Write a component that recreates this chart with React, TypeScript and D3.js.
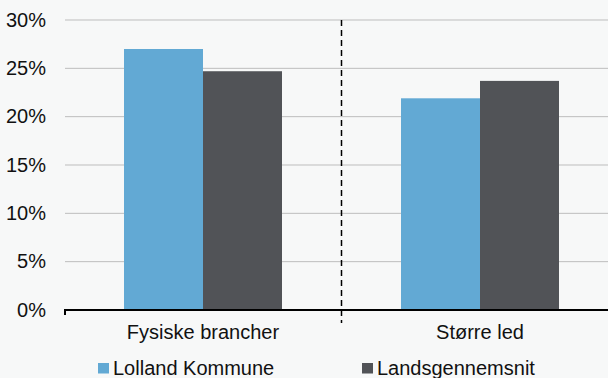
import React from "react";
import * as d3 from "d3";

const categories = ["Fysiske brancher", "Større led"];
const seriesNames = ["Lolland Kommune", "Landsgennemsnit"];
const lollandValues = [0.27, 0.219];
const landsValues = [0.247, 0.237];
const yTicks = [0, 0.05, 0.1, 0.15, 0.2, 0.25, 0.3];
const colors = ["#62a9d4", "#515357"];

const W = 608;
const H = 378;
const FONT = "'Liberation Sans', Arial, Helvetica, sans-serif";

export default function App() {
  const y = d3.scaleLinear().domain([0, 0.3]).range([310, 20]);
  const x = d3.scaleBand<string>().domain(categories).range([64.5, 618.5]).paddingInner(0).paddingOuter(0);
  const groupW = 158;
  const inner = d3.scaleBand<string>().domain(seriesNames).range([0, groupW]).padding(0);
  const series = [lollandValues, landsValues];
  const fmt = d3.format(".0%");

  return (
    <div style={{ position: "fixed", left: 0, top: 0 }}>
      <svg width={W} height={H} style={{ display: "block", background: "#f7f8f8" }} fontFamily={FONT}>
        <rect x={0} y={0} width={W} height={H} fill="#f7f8f8" />
        {yTicks.map((t) => (
          <g key={t}>
            {t > 0 && (
              <line x1={65} x2={W} y1={y(t)} y2={y(t)} stroke="#bdbdbd" strokeWidth={1} />
            )}
            <text x={46} y={y(t)} dy="0.33em" textAnchor="end" fontSize={20} fill="#111">
              {fmt(t)}
            </text>
          </g>
        ))}
        {categories.map((c, ci) => {
          const cx = (x(c) as number) + x.bandwidth() / 2;
          const gx = cx - groupW / 2;
          return (
            <g key={c}>
              {seriesNames.map((s, si) => {
                const v = series[si][ci];
                return (
                  <rect
                    key={s}
                    x={gx + (inner(s) as number)}
                    y={y(v)}
                    width={inner.bandwidth()}
                    height={y(0) - y(v)}
                    fill={colors[si]}
                  />
                );
              })}
              <text x={cx} y={339} textAnchor="middle" fontSize={20} fill="#111">
                {c}
              </text>
            </g>
          );
        })}
        <line x1={64} x2={W} y1={310} y2={310} stroke="#000" strokeWidth={2} />
        <line x1={65} x2={65} y1={309} y2={315} stroke="#000" strokeWidth={2} />
        <line
          x1={(x(categories[1]) as number)}
          x2={(x(categories[1]) as number)}
          y1={20}
          y2={323}
          stroke="#000"
          strokeWidth={1.5}
          strokeDasharray="6,4"
        />
        {seriesNames.map((s, i) => {
          const lx = [98, 362][i];
          return (
            <g key={s}>
              <rect x={lx} y={363} width={11} height={10.5} fill={colors[i]} />
              <text x={lx + 15} y={375} fontSize={20} fill="#111">
                {s}
              </text>
            </g>
          );
        })}
      </svg>
    </div>
  );
}
